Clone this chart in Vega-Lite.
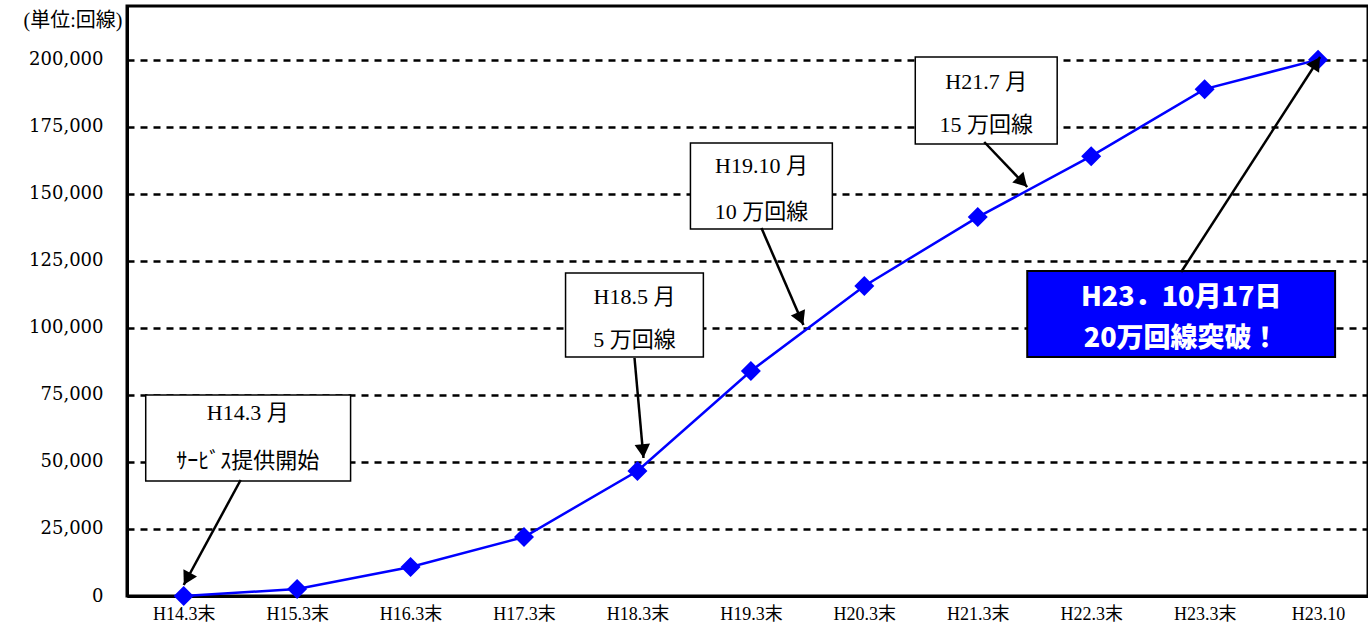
{
  "$schema": "https://vega.github.io/schema/vega-lite/v6.json",
  "width": 1241,
  "height": 590,
  "autosize": {"type": "none"},
  "padding": {"left": 127, "top": 6, "right": 0, "bottom": 41},
  "background": "white",
  "config": {
    "view": {"stroke": "black", "strokeWidth": 3},
    "font": "Liberation Serif, Noto Sans CJK JP"
  },
  "datasets": {
    "series": [
      {"label": "H14.3末", "x": 0, "y": 0},
      {"label": "H15.3末", "x": 1, "y": 2600},
      {"label": "H16.3末", "x": 2, "y": 10800},
      {"label": "H17.3末", "x": 3, "y": 22000},
      {"label": "H18.3末", "x": 4, "y": 46600},
      {"label": "H19.3末", "x": 5, "y": 83900},
      {"label": "H20.3末", "x": 6, "y": 115600},
      {"label": "H21.3末", "x": 7, "y": 141300},
      {"label": "H22.3末", "x": 8, "y": 164000},
      {"label": "H23.3末", "x": 9, "y": 189000},
      {"label": "H23.10", "x": 10, "y": 200000}
    ],
    "boxes": [
      {"id": 1, "kind": "note", "x": -0.335, "x2": 1.471, "y": 74950, "y2": 42880},
      {"id": 2, "kind": "note", "x": 3.366, "x2": 4.581, "y": 120440, "y2": 89120},
      {"id": 3, "kind": "note", "x": 4.467, "x2": 5.718, "y": 168920, "y2": 136850},
      {"id": 4, "kind": "note", "x": 6.449, "x2": 7.7, "y": 200980, "y2": 168540},
      {"id": 5, "kind": "highlight", "x": 7.436, "x2": 10.15, "y": 121190, "y2": 89120}
    ],
    "labels": [
      {"kind": "note", "x": 0.564, "y": 68240, "text": "H14.3 月"},
      {"kind": "note", "x": 0.564, "y": 50340, "text": "ｻｰﾋﾞｽ提供開始"},
      {"kind": "note", "x": 3.974, "y": 111490, "text": "H18.5 月"},
      {"kind": "note", "x": 3.974, "y": 95460, "text": "5 万回線"},
      {"kind": "note", "x": 5.093, "y": 160340, "text": "H19.10 月"},
      {"kind": "note", "x": 5.093, "y": 143190, "text": "10 万回線"},
      {"kind": "note", "x": 7.075, "y": 191660, "text": "H21.7 月"},
      {"kind": "note", "x": 7.075, "y": 175630, "text": "15 万回線"},
      {"kind": "highlight", "x": 8.793, "y": 111120, "text": "H23．10月17日"},
      {"kind": "highlight", "x": 8.793, "y": 95830, "text": "20万回線突破！"}
    ],
    "arrows": [
      {"id": 1, "x": 0.502, "y": 43250, "x2": 0.0, "y2": 4100},
      {"id": 2, "x": 3.974, "y": 88750, "x2": 4.053, "y2": 51460},
      {"id": 3, "x": 5.093, "y": 137220, "x2": 5.463, "y2": 101050},
      {"id": 4, "x": 7.057, "y": 169290, "x2": 7.436, "y2": 152510},
      {"id": 5, "x": 8.793, "y": 120810, "x2": 10.018, "y2": 200980}
    ],
    "heads": [
      {"id": 1, "x": 0.029, "y": 6410},
      {"id": 2, "x": 4.048, "y": 54070},
      {"id": 3, "x": 5.438, "y": 103440},
      {"id": 4, "x": 7.394, "y": 154410},
      {"id": 5, "x": 9.984, "y": 198780}
    ]
  },
  "encoding": {
    "x": {
      "field": "x",
      "type": "quantitative",
      "scale": {"domain": [-0.5, 10.44], "nice": false, "zero": false},
      "axis": {
        "title": null,
        "values": [0, 1, 2, 3, 4, 5, 6, 7, 8, 9, 10],
        "labelExpr": "['H14.3末','H15.3末','H16.3末','H17.3末','H18.3末','H19.3末','H20.3末','H21.3末','H22.3末','H23.3末','H23.10'][datum.value]",
        "ticks": false,
        "grid": false,
        "domainColor": "black",
        "domainWidth": 3,
        "labelFontSize": 18,
        "labelColor": "black",
        "labelPadding": 9,
        "labelFlush": false,
        "labelOverlap": false
      }
    },
    "y": {
      "field": "y",
      "type": "quantitative",
      "scale": {"domain": [0, 220000], "nice": false},
      "axis": {
        "title": "(単位:回線)",
        "titleAngle": 0,
        "titleAlign": "right",
        "titleBaseline": "middle",
        "titleX": -5,
        "titleY": 14,
        "titleFont": "Liberation Serif, Noto Sans CJK JP",
        "titleFontSize": 20,
        "titleFontWeight": "normal",
        "titleColor": "black",
        "values": [0, 25000, 50000, 75000, 100000, 125000, 150000, 175000, 200000],
        "format": ",.0f",
        "ticks": false,
        "grid": true,
        "gridColor": "black",
        "gridDash": [7, 6],
        "gridWidth": 2.5,
        "gridOpacity": 1,
        "domainColor": "black",
        "domainWidth": 3,
        "labelFont": "DejaVu Serif",
        "labelFontSize": 18,
        "labelColor": "black",
        "labelPadding": 24
      }
    }
  },
  "layer": [
    {
      "data": {"name": "series"},
      "mark": {
        "type": "line",
        "color": "#0000FF",
        "strokeWidth": 2.5,
        "point": {"filled": true, "shape": "diamond", "size": 400, "color": "#0000FF", "opacity": 1}
      }
    },
    {
      "data": {"name": "boxes"},
      "transform": [{"filter": "datum.kind === 'note'"}],
      "mark": {"type": "rect", "fill": "white", "stroke": "black", "strokeWidth": 1.5},
      "encoding": {"x2": {"field": "x2"}, "y2": {"field": "y2"}}
    },
    {
      "data": {"name": "boxes"},
      "transform": [{"filter": "datum.kind === 'highlight'"}],
      "mark": {"type": "rect", "fill": "#0000FF", "stroke": "black", "strokeWidth": 2},
      "encoding": {"x2": {"field": "x2"}, "y2": {"field": "y2"}}
    },
    {
      "data": {"name": "labels"},
      "transform": [{"filter": "datum.kind === 'note'"}],
      "mark": {"type": "text", "fontSize": 22, "color": "black", "align": "center", "baseline": "middle", "font": "Liberation Serif, Noto Sans CJK JP"},
      "encoding": {"text": {"field": "text"}}
    },
    {
      "data": {"name": "labels"},
      "transform": [{"filter": "datum.kind === 'highlight'"}],
      "mark": {"type": "text", "fontSize": 27, "fontWeight": 900, "color": "white", "align": "center", "baseline": "middle", "font": "Noto Sans CJK JP"},
      "encoding": {"text": {"field": "text"}}
    },
    {
      "data": {"name": "arrows"},
      "mark": {"type": "rule", "color": "black", "strokeWidth": 2.5},
      "encoding": {"x2": {"field": "x2"}, "y2": {"field": "y2"}}
    },
    {
      "data": {"name": "heads"},
      "transform": [{"filter": "datum.id === 1"}],
      "mark": {"type": "point", "shape": "triangle-up", "filled": true, "color": "black", "opacity": 1, "size": 240, "angle": 208.5}
    },
    {
      "data": {"name": "heads"},
      "transform": [{"filter": "datum.id === 2"}],
      "mark": {"type": "point", "shape": "triangle-up", "filled": true, "color": "black", "opacity": 1, "size": 240, "angle": 174.9}
    },
    {
      "data": {"name": "heads"},
      "transform": [{"filter": "datum.id === 3"}],
      "mark": {"type": "point", "shape": "triangle-up", "filled": true, "color": "black", "opacity": 1, "size": 240, "angle": 156.6}
    },
    {
      "data": {"name": "heads"},
      "transform": [{"filter": "datum.id === 4"}],
      "mark": {"type": "point", "shape": "triangle-up", "filled": true, "color": "black", "opacity": 1, "size": 240, "angle": 136.3}
    },
    {
      "data": {"name": "heads"},
      "transform": [{"filter": "datum.id === 5"}],
      "mark": {"type": "point", "shape": "triangle-up", "filled": true, "color": "black", "opacity": 1, "size": 240, "angle": 32.9}
    }
  ]
}
